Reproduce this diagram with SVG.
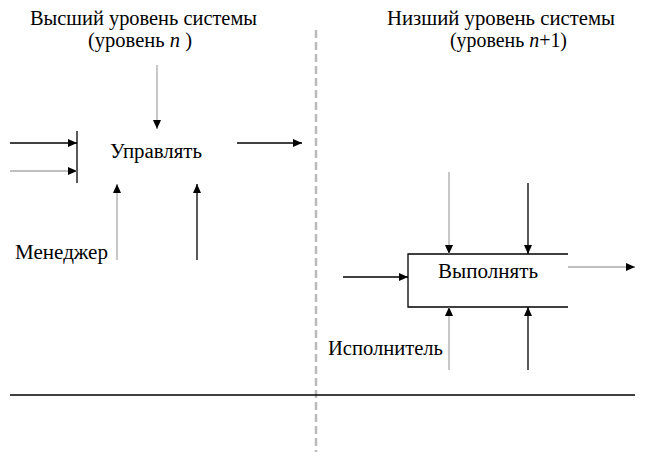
<svg xmlns="http://www.w3.org/2000/svg" width="645" height="462" viewBox="0 0 645 462">
<style>
text{font-family:'Times New Roman','Liberation Serif',Tinos,'DejaVu Serif',serif;font-size:20px;fill:#000}
.k{stroke:#000;stroke-width:1.3;fill:none}
.g{stroke:#aaa;stroke-width:1.3;fill:none}
.a{marker-end:url(#ah)}
</style>
<defs>
<marker id="ah" markerWidth="10" markerHeight="8" refX="9" refY="4" orient="auto" markerUnits="userSpaceOnUse">
<path d="M0,0 L9,4 L0,8 Z" fill="#000"/>
</marker>
</defs>
<rect width="645" height="462" fill="#fff"/>
<g id="headers">
<text x="30" y="25" textLength="227" lengthAdjust="spacingAndGlyphs">Высший уровень системы</text>
<text x="88" y="47" textLength="104" lengthAdjust="spacingAndGlyphs">(уровень  <tspan font-style="italic">n</tspan> )</text>
<text x="387" y="25" textLength="228" lengthAdjust="spacingAndGlyphs">Низший уровень системы</text>
<text x="450" y="47" textLength="117" lengthAdjust="spacingAndGlyphs">(уровень  <tspan font-style="italic">n</tspan>+1)</text>
</g>
<g id="divider">
<line x1="316" y1="30" x2="316" y2="452" stroke="#bbb" stroke-width="2.5" stroke-dasharray="8,4"/>
<line x1="10" y1="395" x2="635" y2="395" class="k"/>
</g>
<g id="node-upravlyat">
<line x1="77" y1="131" x2="77" y2="183" class="k"/>
<text x="110" y="158" textLength="92" lengthAdjust="spacingAndGlyphs">Управлять</text>
</g>
<g id="node-vypolnyat">
<path d="M568,254 H408 V307 H568" class="k"/>
<text x="438" y="278" textLength="100" lengthAdjust="spacingAndGlyphs">Выполнять</text>
</g>
<g id="labels">
<text x="15" y="259" textLength="93" lengthAdjust="spacingAndGlyphs">Менеджер</text>
<text x="328" y="355" textLength="115" lengthAdjust="spacingAndGlyphs">Исполнитель</text>
</g>
<g id="connectors">
<line x1="157" y1="65" x2="157" y2="129" class="g a"/>
<line x1="10" y1="143" x2="77" y2="143" class="k a"/>
<line x1="10" y1="171" x2="77" y2="171" class="g a"/>
<line x1="237" y1="143" x2="302" y2="143" class="k a"/>
<line x1="117" y1="260" x2="117" y2="184" class="g a"/>
<line x1="197" y1="260" x2="197" y2="184" class="k a"/>
<line x1="449" y1="172" x2="449" y2="254" class="g a"/>
<line x1="528" y1="183" x2="528" y2="254" class="k a"/>
<line x1="343" y1="277" x2="408" y2="277" class="k a"/>
<line x1="568" y1="267" x2="635" y2="267" class="g a"/>
<line x1="449" y1="370" x2="449" y2="307" class="g a"/>
<line x1="528" y1="370" x2="528" y2="307" class="k a"/>
</g>
</svg>
